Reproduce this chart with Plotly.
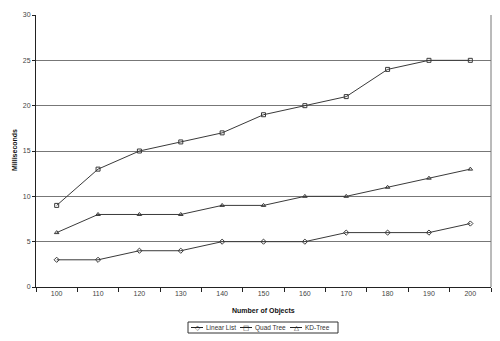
import plotly.graph_objects as go

objects = ["100", "110", "120", "130", "140", "150", "160", "170", "180", "190", "200"]
linear_list = [3, 3, 4, 4, 5, 5, 5, 6, 6, 6, 7]
quad_tree = [9, 13, 15, 16, 17, 19, 20, 21, 24, 25, 25]
kd_tree = [6, 8, 8, 8, 9, 9, 10, 10, 11, 12, 13]

FONT = "Liberation Sans, Arial, sans-serif"
LINE = "#3a3a3a"

# plot area in pixels (used to place the hand-drawn legend)
W, H = 500, 341
L, R, T, B = 36, 9, 15, 54
PW, PH = W - L - R, H - T - B


def px_x(px):
    return (px - L) / PW


def px_y(py):
    return (H - B - py) / PH


fig = go.Figure()
series = [
    ("Linear List", linear_list, "diamond-open", "◇"),
    ("Quad Tree", quad_tree, "square-open", "□"),
    ("KD-Tree", kd_tree, "triangle-up-open", "△"),
]
for name, vals, sym, _ in series:
    fig.add_trace(go.Scatter(
        x=objects, y=vals, name=name, mode="lines+markers",
        line=dict(color=LINE, width=1),
        marker=dict(symbol=sym, size=4, color=LINE, line=dict(width=1, color=LINE)),
    ))

shapes = [
    # right frame edge
    dict(type="line", xref="paper", yref="paper", x0=1, x1=1, y0=0, y1=1,
         line=dict(color="#777", width=1)),
    # legend box
    dict(type="rect", xref="paper", yref="paper",
         x0=px_x(188), x1=px_x(338), y0=px_y(322), y1=px_y(333),
         line=dict(color="#333", width=1), fillcolor="white"),
]
annotations = [
    dict(text="<b>Number of Objects</b>", xref="paper", yref="paper",
         x=0.5, y=px_y(311), xanchor="center", yanchor="middle",
         showarrow=False, font=dict(size=7, color="#111")),
    dict(text="<b>Milliseconds</b>", xref="paper", yref="paper",
         x=px_x(14), y=px_y(150), xanchor="center", yanchor="middle", textangle=-90,
         showarrow=False, font=dict(size=7, color="#111")),
]

# legend entries: short line with marker glyph, then label
ly = px_y(327.5)
entry_x = [191, 240, 290]
for x0, (name, _, _, glyph) in zip(entry_x, series):
    shapes.append(dict(type="line", xref="paper", yref="paper",
                       x0=px_x(x0), x1=px_x(x0 + 12), y0=ly, y1=ly,
                       line=dict(color="#222", width=1)))
    annotations.append(dict(text=glyph, xref="paper", yref="paper",
                            x=px_x(x0 + 6), y=ly, xanchor="center", yanchor="middle",
                            showarrow=False, bgcolor="rgba(0,0,0,0)",
                            font=dict(size=6.5, color="#222", family="DejaVu Sans")))
    annotations.append(dict(text=name, xref="paper", yref="paper",
                            x=px_x(x0 + 13), y=ly, xanchor="left", yanchor="middle",
                            showarrow=False, font=dict(size=6.5, color="#333")))

fig.update_layout(
    width=W, height=H,
    margin=dict(l=L, r=R, t=T, b=B, autoexpand=False),
    paper_bgcolor="white", plot_bgcolor="white",
    font=dict(family=FONT, size=7, color="#333"),
    showlegend=False,
    xaxis=dict(
        type="category", tickson="boundaries", ticks="outside", ticklen=4,
        tickcolor="#222", showline=True, linecolor="#222", linewidth=1,
        showgrid=False, automargin=False, tickfont=dict(size=7, color="#444"),
        range=[-0.5, 10.5],
    ),
    yaxis=dict(
        range=[0, 30], dtick=5, ticks="outside", ticklen=3, tickcolor="#222",
        showline=True, linecolor="#222", linewidth=1, automargin=False,
        showgrid=True, gridcolor="#777", gridwidth=1, zeroline=False,
        tickfont=dict(size=7, color="#444"),
    ),
    shapes=shapes,
    annotations=annotations,
)

fig.write_html("out.html")
